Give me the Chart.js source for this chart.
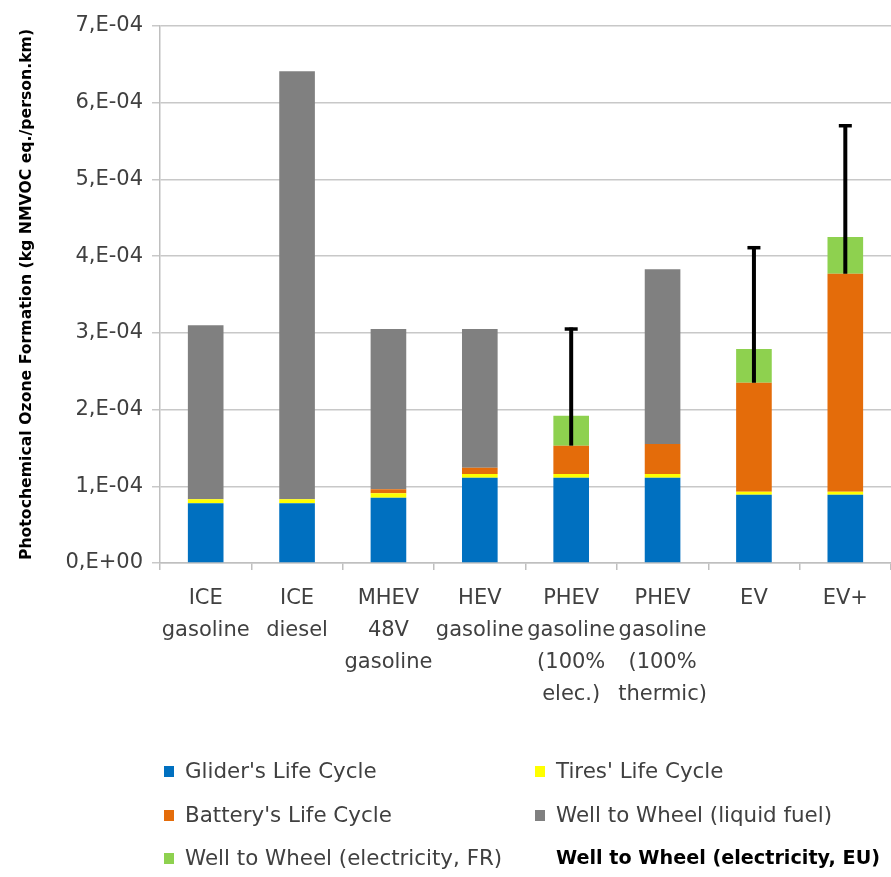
<!DOCTYPE html>
<html><head><meta charset="utf-8">
<script src="https://cdn.jsdelivr.net/npm/chart.js@4.4.1/dist/chart.umd.min.js"></script>
<style>
html,body{margin:0;padding:0;background:#fff;}
#wrap{position:relative;width:891px;height:877px;overflow:hidden;}
#c{position:absolute;left:0;top:0;}
#legend{position:absolute;left:0;top:0;width:891px;height:877px;pointer-events:none;font-family:"DejaVu Sans",sans-serif;font-size:21.4px;color:#404040;}
.item{position:absolute;white-space:nowrap;height:30px;line-height:30px;}
.box{position:absolute;width:10px;height:11px;top:10px;}
.txt{position:absolute;top:0;}
</style></head>
<body><div id="wrap"><canvas id="c" width="891" height="877"></canvas><div id="legend"></div></div>
<script>
// Categories (multi-line labels)
const categories = [
  ["ICE","gasoline"],
  ["ICE","diesel"],
  ["MHEV","48V","gasoline"],
  ["HEV","gasoline"],
  ["PHEV","gasoline","(100%","elec.)"],
  ["PHEV","gasoline","(100%","thermic)"],
  ["EV"],
  ["EV+"]
];
// Series values (kg NMVOC eq./person.km)
const glider   = [0.78e-4, 0.78e-4, 0.85e-4, 1.11e-4, 1.11e-4, 1.11e-4, 0.89e-4, 0.89e-4];
const tires    = [0.05e-4, 0.05e-4, 0.06e-4, 0.05e-4, 0.05e-4, 0.05e-4, 0.04e-4, 0.04e-4];
const battery  = [null, null, 0.05e-4, 0.08e-4, 0.37e-4, 0.39e-4, 1.42e-4, 2.84e-4];
const wtwLiquid= [2.27e-4, 5.58e-4, 2.09e-4, 1.81e-4, null, 2.28e-4, null, null];
const wtwFR    = [null, null, null, null, 0.39e-4, null, 0.44e-4, 0.48e-4];
const wtwEU    = [null, null, null, null, 1.52e-4, null, 1.76e-4, 1.93e-4];
// Y-axis ticks
const yTicks = [0, 1e-4, 2e-4, 3e-4, 4e-4, 5e-4, 6e-4, 7e-4];
const yTickLabels = ["0,E+00","1,E-04","2,E-04","3,E-04","4,E-04","5,E-04","6,E-04","7,E-04"];

const seriesNames = ["Glider's Life Cycle","Tires' Life Cycle","Battery's Life Cycle","Well to Wheel (liquid fuel)","Well to Wheel (electricity, FR)","Well to Wheel (electricity, EU)"];
const seriesColors = ["#0070C0","#FFFF00","#E46C0A","#808080","#8ED14F","#000000"];

const errorBars = {
  id:'errorBars',
  afterDatasetsDraw(chart){
    const ctx = chart.ctx, y = chart.scales.y;
    const meta = chart.getDatasetMeta(0);
    ctx.save();
    ctx.strokeStyle = '#000';
    ctx.lineCap = 'butt';
    wtwEU.forEach((v,i)=>{
      if(v==null) return;
      const base = glider[i] + tires[i] + (battery[i]||0);
      const x = meta.data[i].x;
      const y0 = y.getPixelForValue(base), y1 = y.getPixelForValue(base + v);
      ctx.lineWidth = 4;
      ctx.beginPath(); ctx.moveTo(x, y0); ctx.lineTo(x, y1 - 1.5); ctx.stroke();
      ctx.lineWidth = 3.5;
      ctx.beginPath(); ctx.moveTo(x - 6.5, y1); ctx.lineTo(x + 6.5, y1); ctx.stroke();
    });
    ctx.restore();
  }
};

const dataArrays = [glider, tires, battery, wtwLiquid, wtwFR];
const datasets = dataArrays.map((arr,k)=>({
  label: seriesNames[k],
  data: arr,
  backgroundColor: seriesColors[k],
  borderWidth: 0,
  categoryPercentage: 1.0,
  barPercentage: 0.39
}));

const FONT = '"DejaVu Sans", sans-serif';
new Chart(document.getElementById('c'), {
  type: 'bar',
  data: { labels: categories, datasets },
  plugins: [errorBars],
  options: {
    responsive: false,
    animation: false,
    layout: { padding: { top: 26, right: 0, bottom: 0, left: 0 } },
    plugins: { legend: { display: false }, tooltip: { enabled: false } },
    scales: {
      x: {
        stacked: true,
        grid: { display: true, drawOnChartArea: false, drawTicks: true, tickLength: 7, color: '#BFBFBF', lineWidth: 1.5 },
        border: { color: '#BFBFBF', width: 1.5 },
        ticks: { color: '#404040', font: { family: FONT, size: 21 }, maxRotation: 0, minRotation: 0, autoSkip: false, padding: 13,
          font: { family: FONT, size: 21, lineHeight: 32/21 } },
        afterFit(s){ s.height = 314; }
      },
      y: {
        stacked: true,
        min: 0, max: 7e-4,
        afterBuildTicks(s){ s.ticks = yTicks.map(v=>({value:v})); },
        grid: { color: '#C8C8C8', lineWidth: 1.5, tickLength: 8, drawTicks: true },
        border: { color: '#BFBFBF', width: 1.5 },
        ticks: { color: '#404040', font: { family: FONT, size: 21 }, padding: 9,
          callback(v, i){ return yTickLabels[i]; } },
        title: { display: true, text: 'Photochemical Ozone Formation (kg NMVOC eq./person.km)', color: '#000',
          font: { family: FONT, size: 15.7, weight: 'bold' }, padding: { top: 18, bottom: 0 } },
        afterFit(s){ s.width = 160; }
      }
    }
  }
});

// Legend (HTML, built from series arrays)
const legendPos = [[164,756],[535,756],[164,800],[535,800],[164,843],[535,843]];
const lg = document.getElementById('legend');
seriesNames.forEach((name,k)=>{
  const it = document.createElement('div');
  it.className = 'item';
  it.style.left = legendPos[k][0] + 'px';
  it.style.top = legendPos[k][1] + 'px';
  const isEU = k === 5;
  if(!isEU){
    const b = document.createElement('div'); b.className='box'; b.style.left='0px'; b.style.background=seriesColors[k]; it.appendChild(b);
  }
  const t = document.createElement('div'); t.className='txt'; t.style.left='21px'; t.textContent=name;
  if(isEU){ t.style.fontWeight='bold'; t.style.color='#000'; t.style.fontSize='19.2px'; }
  it.appendChild(t);
  lg.appendChild(it);
});
</script></body></html>
